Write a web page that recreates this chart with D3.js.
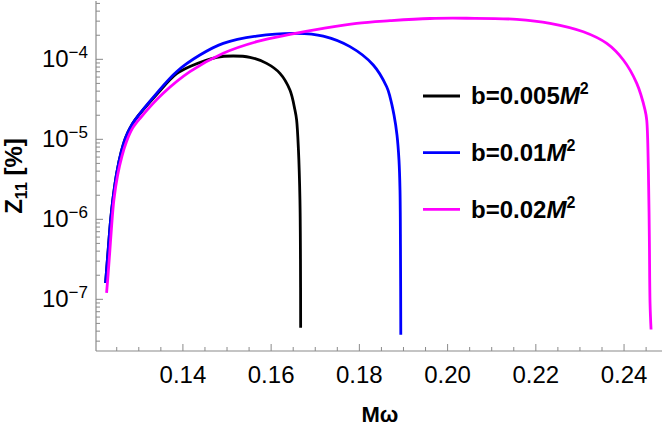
<!DOCTYPE html>
<html>
<head>
<meta charset="utf-8">
<script src="https://cdn.jsdelivr.net/npm/d3@7"></script>
<style>
  html, body { margin: 0; padding: 0; background: #fff; }
  svg { display: block; font-family: "Liberation Sans", Arial, sans-serif; }
</style>
</head>
<body>
<svg id="chart" width="664" height="428"></svg>
<script>
// ---- data ----
const omegaBlack = [0.12247, 0.12306, 0.12363, 0.1242, 0.1250, 0.1260, 0.1270, 0.1280, 0.12912, 0.13404, 0.13857, 0.14159, 0.14764, 0.15141, 0.15519, 0.15898, 0.16200, 0.16426, 0.1654, 0.16578, 0.16619, 0.16653, 0.16665, 0.16669];
const zBlack     = [1.6e-7, 4.13e-7, 1.0e-6, 1.9e-6, 3.8e-6, 6.9e-6, 1.05e-5, 1.38e-5, 1.74e-5, 3.63e-5, 6.6e-5, 8.13e-5, 1.06e-4, 1.10e-4, 1.06e-4, 8.9e-5, 6.68e-5, 4.13e-5, 2.32e-5, 1.74e-5, 7.4e-6, 1.74e-6, 3.2e-7, 4.4e-8];

const omegaBlue = [0.12247, 0.12306, 0.12363, 0.1242, 0.1250, 0.1260, 0.1270, 0.1280, 0.12912, 0.13404, 0.13857, 0.14385, 0.14914, 0.15671, 0.16578, 0.17181, 0.17787, 0.18315, 0.18619, 0.18694, 0.18785, 0.18853, 0.18898, 0.18921, 0.18932, 0.18939];
const zBlue     = [1.6e-7, 4.13e-7, 1.0e-6, 1.9e-6, 3.8e-6, 6.9e-6, 1.05e-5, 1.38e-5, 1.74e-5, 3.76e-5, 7.0e-5, 1.13e-4, 1.58e-4, 1.95e-4, 2.11e-4, 1.95e-4, 1.44e-4, 8.5e-5, 4.54e-5, 3.4e-5, 2.01e-5, 1.13e-5, 5.5e-6, 2.32e-6, 4.13e-7, 3.6e-8];

const omegaMagenta = [0.1227, 0.12306, 0.12345, 0.12383, 0.12435, 0.1252, 0.1262, 0.1272, 0.1285, 0.13025, 0.13553, 0.14159, 0.14914, 0.15671, 0.16426, 0.17181, 0.17938, 0.18694, 0.1960, 0.20433, 0.21567, 0.22322, 0.23077, 0.23608, 0.23984, 0.24288, 0.24476, 0.24514, 0.24551, 0.24573, 0.24589, 0.24612];
const zMagenta     = [1.2e-7, 2.11e-7, 4.13e-7, 8.1e-7, 1.74e-6, 3.55e-6, 6.2e-6, 9.3e-6, 1.35e-5, 1.82e-5, 3.76e-5, 7.0e-5, 1.19e-4, 1.66e-4, 2.05e-4, 2.44e-4, 2.82e-4, 3.04e-4, 3.24e-4, 3.26e-4, 3.16e-4, 2.82e-4, 2.21e-4, 1.58e-4, 9.8e-5, 5.0e-5, 2.32e-5, 1.74e-5, 4.2e-6, 6.0e-7, 8.9e-8, 4.2e-8];

const xTicks = [0.14, 0.16, 0.18, 0.20, 0.22, 0.24];
const xTickLabels = ["0.14", "0.16", "0.18", "0.20", "0.22", "0.24"];
const yTickExponents = [-7, -6, -5, -4];
const legendLabels = ["b=0.005", "b=0.01", "b=0.02"];
const seriesColors = ["#000000", "#0000ff", "#ff00ff"];

// ---- layout ----
const svg = d3.select("#chart");
const plotL = 96, plotR = 662, plotT = 1, plotB = 351;
const x = d3.scaleLinear().domain([0.1203, 0.2486]).range([plotL, plotR]);
const y = d3.scaleLog().domain([Math.pow(10, -7.646), Math.pow(10, -3.271)]).range([plotB, plotT]);
const axisColor = "#8a8a8a";

// curves (draw black, blue, magenta)
const series = [
  {xs: omegaBlack, ys: zBlack},
  {xs: omegaBlue, ys: zBlue},
  {xs: omegaMagenta, ys: zMagenta}
];
const lineGen = d3.line().x(d => x(d[0])).y(d => y(d[1])).curve(d3.curveCatmullRom.alpha(0.5));
series.forEach((s, i) => {
  const pts = s.xs.map((v, j) => [v, s.ys[j]]);
  svg.append("path").attr("d", lineGen(pts))
    .attr("fill", "none").attr("stroke", seriesColors[i])
    .attr("stroke-width", 2.8).attr("stroke-linejoin", "round");
});

// axes lines
svg.append("line").attr("x1", plotL).attr("x2", plotR).attr("y1", plotB).attr("y2", plotB)
  .attr("stroke", axisColor).attr("stroke-width", 1.2);
svg.append("line").attr("x1", plotL).attr("x2", plotL).attr("y1", plotT).attr("y2", plotB)
  .attr("stroke", axisColor).attr("stroke-width", 1.2);

// x ticks
const xMinor = d3.range(0.125, 0.2475, 0.005);
xMinor.forEach(v => {
  const isMajor = xTicks.some(t => Math.abs(t - v) < 1e-6);
  svg.append("line").attr("x1", x(v)).attr("x2", x(v))
    .attr("y1", plotB).attr("y2", plotB - (isMajor ? 7 : 4))
    .attr("stroke", axisColor).attr("stroke-width", 1);
});
xTicks.forEach((t, i) => {
  svg.append("text").attr("x", x(t)).attr("y", 383)
    .attr("text-anchor", "middle").attr("font-size", 24).attr("fill", "#000")
    .text(xTickLabels[i]);
});

// y ticks
const [yLo, yHi] = y.domain();
for (let e = -8; e <= -3; e++) {
  for (let m = 1; m <= 9; m++) {
    const v = m * Math.pow(10, e);
    if (v < yLo || v > yHi) continue;
    const py = y(v);
    svg.append("line").attr("x1", plotL).attr("x2", plotL + (m === 1 ? 7 : 4))
      .attr("y1", py).attr("y2", py)
      .attr("stroke", axisColor).attr("stroke-width", 1);
  }
}
yTickExponents.forEach(e => {
  const py = y(Math.pow(10, e));
  const t = svg.append("text").attr("x", 88).attr("y", py + 7.4)
    .attr("text-anchor", "end").attr("font-size", 24).attr("fill", "#000");
  t.append("tspan").text("10");
  t.append("tspan").attr("font-size", 17).attr("dy", -9).text("\u2212" + Math.abs(e));
});

// axis titles
const yl = svg.append("text").attr("transform", "translate(22,176) rotate(-90)")
  .attr("text-anchor", "middle").attr("font-size", 24).attr("font-weight", "bold").attr("fill", "#000");
yl.append("tspan").text("Z");
yl.append("tspan").attr("font-size", 16).attr("dy", 5).text("11");
yl.append("tspan").attr("dy", -5).text(" [%]");

svg.append("text").attr("x", 380).attr("y", 422).attr("text-anchor", "middle")
  .attr("font-size", 22).attr("font-weight", "bold").attr("fill", "#000").text("M\u03c9");

// legend
const legendY = [96, 152.7, 209.3];
legendLabels.forEach((lab, i) => {
  svg.append("line").attr("x1", 423).attr("x2", 460).attr("y1", legendY[i]).attr("y2", legendY[i])
    .attr("stroke", seriesColors[i]).attr("stroke-width", 2.8);
  const t = svg.append("text").attr("x", 471).attr("y", legendY[i] + 8.3)
    .attr("font-size", 24).attr("font-weight", "bold").attr("fill", "#000");
  t.append("tspan").text(lab);
  t.append("tspan").attr("font-style", "italic").text("M");
  t.append("tspan").attr("font-size", 16).attr("dy", -10).text("2");
});
</script>
</body>
</html>
